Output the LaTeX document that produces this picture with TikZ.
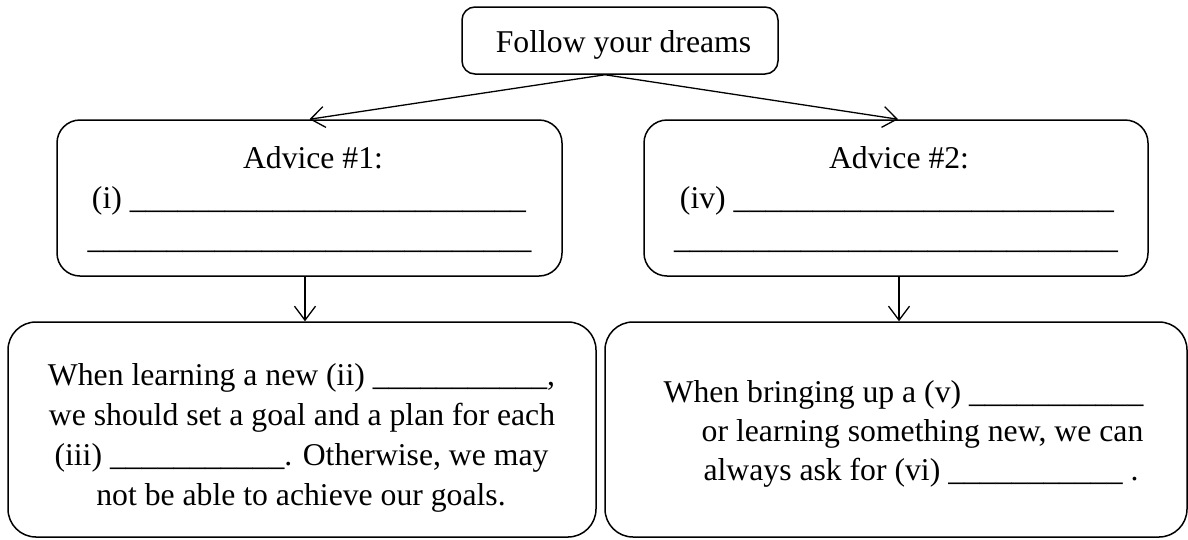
\documentclass[tikz,border=0pt]{standalone}
\usepackage{fontspec}
\setmainfont{Liberation Serif}
\usetikzlibrary{arrows.meta}
\newcommand\blanks[1]{\count255=0 \loop\_\advance\count255 by 1 \ifnum\count255<#1\repeat}
\tikzset{
  box/.style={draw, line width=1.5pt, rounded corners=#1, inner sep=0pt},
  box/.default=23pt,
  txt/.style={inner sep=0pt, anchor=base, font=\fontsize{31.7}{40}\selectfont},
  conn/.style={line width=1.3pt, -{Straight Barb[length=14pt,width=21pt,line width=1.3pt]}}
}
\begin{document}
\begin{tikzpicture}[x=1pt,y=-1pt]
\useasboundingbox (0,0) rectangle (1188,539);
% boxes
\node[box=13pt, minimum width=316pt, minimum height=67pt] (top) at (620,40.5) {};
\node[box, minimum width=505pt, minimum height=156pt] (a1) at (309.5,198) {};
\node[box, minimum width=504pt, minimum height=156pt] (a2) at (896,198) {};
\node[box=28pt, minimum width=588pt, minimum height=215pt] (b1) at (302,429.5) {};
\node[box=28pt, minimum width=582pt, minimum height=215pt] (b2) at (896,429.5) {};
% texts
\node[txt] (toptxt) at (623.5,52) {Follow your dreams};
\node[txt] (a1l1) at (313,168) {Advice \#1:};
\node[txt] (a1l2) at (309,208) {(i) \blanks{25}};
\node[txt] (a1l3) at (309.5,248) {\blanks{28}};
\node[txt] (a2l1) at (899,168) {Advice \#2:};
\node[txt] (a2l2) at (897,208) {(iv) \blanks{24}};
\node[txt] (a2l3) at (896,248) {\blanks{28}};
\node[txt] (b1l1) at (301.5,385) {When learning a new (ii) \blanks{11},};
\node[txt] (b1l2) at (302,425) {we should set a goal and a plan for each};
\node[txt] (b1l3) at (301.5,465) {(iii) \blanks{11}. Otherwise, we may};
\node[txt] (b1l4) at (301,505) {not be able to achieve our goals.};
\node[txt] (b2l1) at (903.5,402) {When bringing up a (v) \blanks{11}};
\node[txt] (b2l2) at (922.5,441) {or learning something new, we can};
\node[txt] (b2l3) at (921,480) {always ask for (vi) \blanks{11} .};
% connectors
\draw[conn] ([xshift=-15pt]top.south) -- (a1.north);
\draw[conn] ([xshift=-15pt]top.south) -- ([xshift=2pt]a2.north);
\draw[conn] ([xshift=-4.5pt]a1.south) -- ([xshift=-4.5pt]a1.south |- b1.north);
\draw[conn] ([xshift=3pt]a2.south) -- ([xshift=3pt]a2.south |- b2.north);
\end{tikzpicture}
\end{document}
